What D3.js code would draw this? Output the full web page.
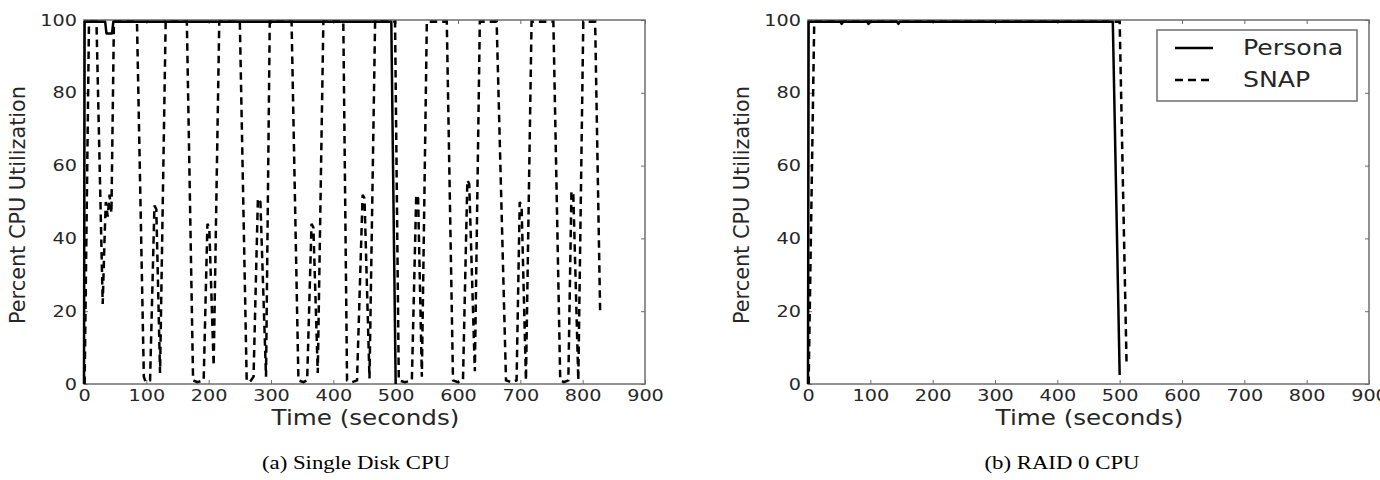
<!DOCTYPE html>
<html>
<head>
<meta charset="utf-8">
<script src="https://cdn.jsdelivr.net/npm/d3@7"></script>
<style>
  body { margin: 0; background: #fff; }
  svg { display: block; }
</style>
</head>
<body>
<svg width="1380" height="480"></svg>
<script>
// (a) single disk: Persona (solid) vs SNAP (dashed)
const persona1Time = [0, 1, 34, 36, 45, 47, 493, 500];
const persona1Cpu  = [0, 99.5, 99.5, 96.3, 96.3, 99.5, 99.5, 0];

const snap1Time = [1, 8, 20, 30, 33, 35, 38, 41, 44, 48,
                   85, 96, 99, 106, 113, 116, 122, 131,
                   165, 175, 182, 192, 198, 201, 208, 217,
                   250, 261, 266, 272, 279, 283, 292, 298,
                   333, 344, 352, 358, 365, 368, 375, 384,
                   416, 422, 430, 438, 447, 450, 458, 467,
                   499, 505, 515, 526, 533, 536, 542, 550,
                   582, 592, 600, 608, 615, 618, 627, 635,
                   662, 677, 686, 694, 699, 702, 709, 718,
                   753, 764, 770, 777, 782, 785, 793, 801,
                   820, 828];
const snap1Cpu = [0, 99.5, 99.5, 22, 40, 50, 46, 52, 47, 99.5,
                  99.5, 2, 0.5, 1, 49, 48, 3, 99.5,
                  99.5, 1, 0.5, 1, 44, 43, 5, 99.5,
                  99.5, 1, 0.5, 2, 51, 50, 2, 99.5,
                  99.5, 1, 0.5, 1, 44, 43, 3, 99.5,
                  99.5, 1, 0.5, 1, 52, 51, 1.5, 99.5,
                  99.5, 1, 0.5, 1, 52, 51, 2, 99.5,
                  99.5, 1, 0.5, 1, 56, 55, 3.5, 99.5,
                  99.5, 1, 0.5, 1, 50, 49, 1, 99.5,
                  99.5, 1, 0.5, 1, 53, 52, 1, 99.5,
                  99.5, 20];

// (b) RAID 0
const persona2Time = [0, 1, 52, 54, 56, 95, 97, 99, 143, 145, 147, 489, 500];
const persona2Cpu  = [0, 99.5, 99.5, 98.9, 99.5, 99.5, 98.9, 99.5, 99.5, 98.9, 99.5, 99.5, 2.5];
const snap2Time = [1, 10, 500, 511];
const snap2Cpu  = [0, 99.5, 99.5, 6];

const xTicks = [0, 100, 200, 300, 400, 500, 600, 700, 800, 900];
const yTicks = [0, 20, 40, 60, 80, 100];
const seriesNames = ["Persona", "SNAP"];
const captions = ["(a) Single Disk CPU", "(b) RAID 0 CPU"];

const STRETCH = 1.2;
const font = "DejaVu Sans";
const spineColor = "#6e6e6e";
const dash = "7.5,5";

const svg = d3.select("svg");

function stretch(sel, k) {
  sel.each(function () {
    const w = this.getComputedTextLength();
    d3.select(this).attr("textLength", w * k).attr("lengthAdjust", "spacingAndGlyphs");
  });
}

function zip(ts, vs) { return ts.map((t, i) => ({t: t, v: vs[i]})); }

function drawPanel(left, right, persona, snap, caption, captionX) {
  const top = 20, bottom = 384;
  const x = d3.scaleLinear().domain([0, 900]).range([left, right]);
  const y = d3.scaleLinear().domain([0, 100]).range([bottom, top]);
  const g = svg.append("g");

  // axes, ticks pointing inward
  const xb = g.append("g").attr("transform", `translate(0,${bottom})`)
    .call(d3.axisBottom(x).tickValues(xTicks).tickSizeInner(-4).tickSizeOuter(0).tickPadding(6));
  const yl = g.append("g").attr("transform", `translate(${left},0)`)
    .call(d3.axisLeft(y).tickValues(yTicks).tickSizeInner(-4).tickSizeOuter(0).tickPadding(7));
  g.append("g").attr("transform", `translate(0,${top})`)
    .call(d3.axisTop(x).tickValues(xTicks).tickSizeInner(-4).tickSizeOuter(0).tickFormat(""));
  g.append("g").attr("transform", `translate(${right},0)`)
    .call(d3.axisRight(y).tickValues(yTicks).tickSizeInner(-4).tickSizeOuter(0).tickFormat(""));
  g.selectAll(".domain").remove();
  g.selectAll(".tick line").attr("stroke", spineColor).attr("stroke-width", 1);
  g.selectAll(".tick text").attr("font-family", font).attr("font-size", 16).attr("fill", "#262626");
  stretch(xb.selectAll(".tick text"), STRETCH);
  stretch(yl.selectAll(".tick text"), STRETCH);

  g.append("rect")
    .attr("x", left).attr("y", top)
    .attr("width", right - left).attr("height", bottom - top)
    .attr("fill", "none").attr("stroke", spineColor).attr("stroke-width", 1.5);

  const line = d3.line().x(d => x(d.t)).y(d => y(d.v));
  g.append("path").datum(persona).attr("d", line)
    .attr("fill", "none").attr("stroke", "#000").attr("stroke-width", 2.5)
    .attr("stroke-linejoin", "round");
  g.append("path").datum(snap).attr("d", line)
    .attr("fill", "none").attr("stroke", "#000").attr("stroke-width", 2.5)
    .attr("stroke-dasharray", dash);

  // axis titles
  const xt = g.append("text")
    .attr("x", (left + right) / 2 + 1).attr("y", 425)
    .attr("text-anchor", "middle")
    .attr("font-family", font).attr("font-size", 20.5).attr("fill", "#262626")
    .text("Time (seconds)");
  stretch(xt, STRETCH);

  g.append("text")
    .attr("transform", `translate(${left - 66},${(top + bottom) / 2 + 3}) rotate(-90)`)
    .attr("text-anchor", "middle").attr("dominant-baseline", "central")
    .attr("font-family", font).attr("font-size", 20.8).attr("fill", "#262626")
    .text("Percent CPU Utilization");

  const cap = g.append("text")
    .attr("x", captionX).attr("y", 469)
    .attr("text-anchor", "middle")
    .attr("font-family", "Liberation Serif").attr("font-size", 19).attr("fill", "#000")
    .text(caption);
  stretch(cap, STRETCH);
}

drawPanel(84, 645, zip(persona1Time, persona1Cpu), zip(snap1Time, snap1Cpu), captions[0], 356);
drawPanel(808, 1369, zip(persona2Time, persona2Cpu), zip(snap2Time, snap2Cpu), captions[1], 1062);

// legend in panel (b)
const lg = svg.append("g");
lg.append("rect")
  .attr("x", 1157).attr("y", 30).attr("width", 200).attr("height", 71)
  .attr("fill", "#fff").attr("stroke", spineColor).attr("stroke-width", 1.5);
seriesNames.forEach((name, i) => {
  const yy = 48 + i * 32;
  lg.append("line")
    .attr("x1", 1175).attr("x2", 1213).attr("y1", yy).attr("y2", yy)
    .attr("stroke", "#000").attr("stroke-width", 2.5)
    .attr("stroke-dasharray", i === 1 ? "8,5" : null);
  const t = lg.append("text")
    .attr("x", 1243).attr("y", yy)
    .attr("dominant-baseline", "central")
    .attr("font-family", font).attr("font-size", 21).attr("fill", "#262626")
    .text(name);
  stretch(t, STRETCH);
});
</script>
</body>
</html>
